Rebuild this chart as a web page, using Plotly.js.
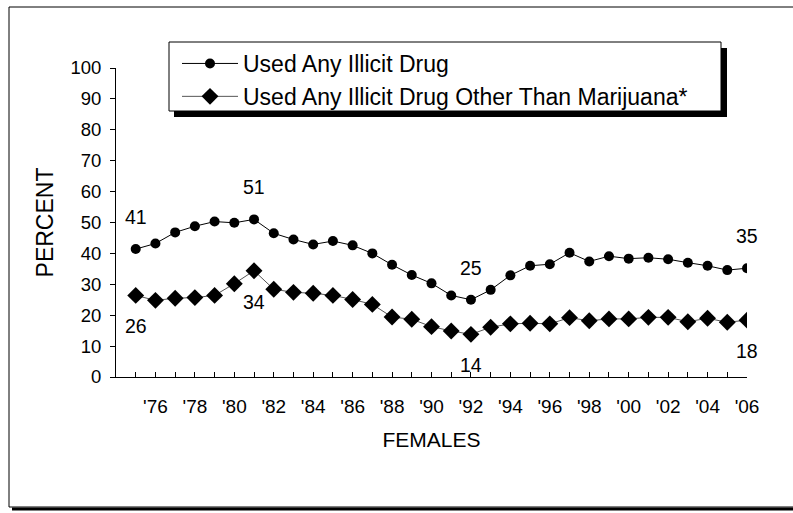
<!DOCTYPE html>
<html>
<head>
<meta charset="utf-8">
<script src="https://cdn.plot.ly/plotly-3.0.1.min.js"></script>
<style>html,body{margin:0;padding:0;background:#fff;overflow:hidden;}#chart{width:793px;height:513px;overflow:hidden;}</style>
</head>
<body>
<div id="chart"></div>
<script>
var years = [1975,1976,1977,1978,1979,1980,1981,1982,1983,1984,1985,1986,1987,1988,1989,1990,
             1991,1992,1993,1994,1995,1996,1997,1998,1999,2000,2001,2002,2003,2004,2005,2006];
var anyDrug = [41.4,43.2,46.8,48.8,50.3,49.9,51.0,46.5,44.5,42.9,44.0,42.6,40.0,36.3,33.0,30.3,
               26.4,25.0,28.2,32.9,36.0,36.5,40.2,37.4,39.1,38.3,38.6,38.1,37.0,36.0,34.6,35.2];
var otherDrug = [26.4,24.8,25.5,25.7,26.4,30.2,34.4,28.4,27.4,27.1,26.4,25.1,23.5,19.4,18.7,16.3,
                 14.9,13.8,16.1,17.2,17.4,17.2,19.2,18.2,18.8,18.8,19.3,19.3,17.9,19.0,17.7,18.4];
var seriesNames = ["Used Any Illicit Drug", "Used Any Illicit Drug Other Than Marijuana*"];
var tickYears = [1975,1976,1977,1978,1979,1980,1981,1982,1983,1984,1985,1986,1987,1988,1989,1990,
                 1991,1992,1993,1994,1995,1996,1997,1998,1999,2000,2001,2002,2003,2004,2005,2006];
var tickLabels = ["","'76","","'78","","'80","","'82","","'84","","'86","","'88","","'90",
                  "","'92","","'94","","'96","","'98","","'00","","'02","","'04","","'06"];
var labeledYears = [1975, 1981, 1992, 2006];
var xTitle = "FEMALES";
var yTitle = "PERCENT";

var FONT = "Liberation Sans, Arial, sans-serif";

var traces = [
  {x: years, y: anyDrug, name: seriesNames[0], type: 'scatter', mode: 'lines+markers',
   line: {color: '#000', width: 1}, marker: {symbol: 'circle', size: 10, color: '#000'}},
  {x: years, y: otherDrug, name: seriesNames[1], type: 'scatter', mode: 'lines+markers',
   line: {color: '#555', width: 1}, marker: {symbol: 'diamond', size: 13, color: '#000'}}
];

var annotations = [];
labeledYears.forEach(function (yr) {
  var i = years.indexOf(yr);
  annotations.push({x: yr, y: anyDrug[i], xref: 'x', yref: 'y', text: String(Math.round(anyDrug[i])),
    showarrow: false, yshift: 32, font: {family: FONT, size: 19.5, color: '#000'}});
  annotations.push({x: yr, y: otherDrug[i], xref: 'x', yref: 'y', text: String(Math.round(otherDrug[i])),
    showarrow: false, yshift: -31, font: {family: FONT, size: 19.5, color: '#000'}});
});

// pixel helpers for paper coordinates (plot area 116..747 x, 68..377 y)
function px(v) { return (v - 116) / 631; }
function py(v) { return (377 - v) / 309; }

var shapes = [
  // outer frame: left, top, bottom lines with bottom shadow (right edge lies off-page)
  {type: 'line', xref: 'paper', yref: 'paper', x0: px(9), x1: px(9), y0: py(507), y1: py(7),
   line: {color: '#000', width: 1}, layer: 'below'},
  {type: 'line', xref: 'paper', yref: 'paper', x0: px(9), x1: px(793), y0: py(7), y1: py(7),
   line: {color: '#000', width: 1}, layer: 'below'},
  {type: 'line', xref: 'paper', yref: 'paper', x0: px(9), x1: px(793), y0: py(507), y1: py(507),
   line: {color: '#000', width: 1}, layer: 'below'},
  {type: 'line', xref: 'paper', yref: 'paper', x0: px(12), x1: px(793), y0: py(509), y1: py(509),
   line: {color: '#000', width: 3}, layer: 'below'},
  // legend box shadow + box
  {type: 'rect', xref: 'paper', yref: 'paper', x0: px(174), x1: px(727), y0: py(117), y1: py(48),
   fillcolor: '#000', line: {width: 0}, layer: 'below'},
  {type: 'rect', xref: 'paper', yref: 'paper', x0: px(169), x1: px(721), y0: py(111), y1: py(42),
   fillcolor: '#fff', line: {color: '#000', width: 1}, layer: 'below'}
];

var layout = {
  width: 793, height: 513,
  margin: {l: 116, r: 46, t: 68, b: 136},
  paper_bgcolor: 'rgba(0,0,0,0)', plot_bgcolor: 'rgba(0,0,0,0)',
  font: {family: FONT, color: '#000'},
  showlegend: true,
  legend: {x: px(177), y: py(42), xanchor: 'left', yanchor: 'top',
    bgcolor: 'rgba(0,0,0,0)', borderwidth: 0, font: {family: FONT, size: 23, color: '#000'},
    itemwidth: 56, traceorder: 'normal'},
  xaxis: {range: [1974, 2006], tickmode: 'array', tickvals: tickYears, ticktext: tickLabels,
    ticks: 'inside', ticklen: 5, tickcolor: '#000', tickwidth: 1,
    showline: true, linecolor: '#000', linewidth: 1, showgrid: false, zeroline: false,
    tickfont: {family: FONT, size: 19}, ticklabelstandoff: 12,
    title: {text: xTitle, font: {family: FONT, size: 21}, standoff: 16}},
  yaxis: {range: [0, 100], tickmode: 'linear', tick0: 0, dtick: 10,
    ticks: 'outside', ticklen: 5, tickcolor: '#000', tickwidth: 1,
    showline: true, linecolor: '#000', linewidth: 1, showgrid: false, zeroline: false,
    tickfont: {family: FONT, size: 18.5}, ticklabelstandoff: 5,
    title: {text: yTitle, font: {family: FONT, size: 23}, standoff: 10}},
  annotations: annotations,
  shapes: shapes
};

Plotly.newPlot('chart', traces, layout, {displayModeBar: false, staticPlot: true});
</script>
</body>
</html>
